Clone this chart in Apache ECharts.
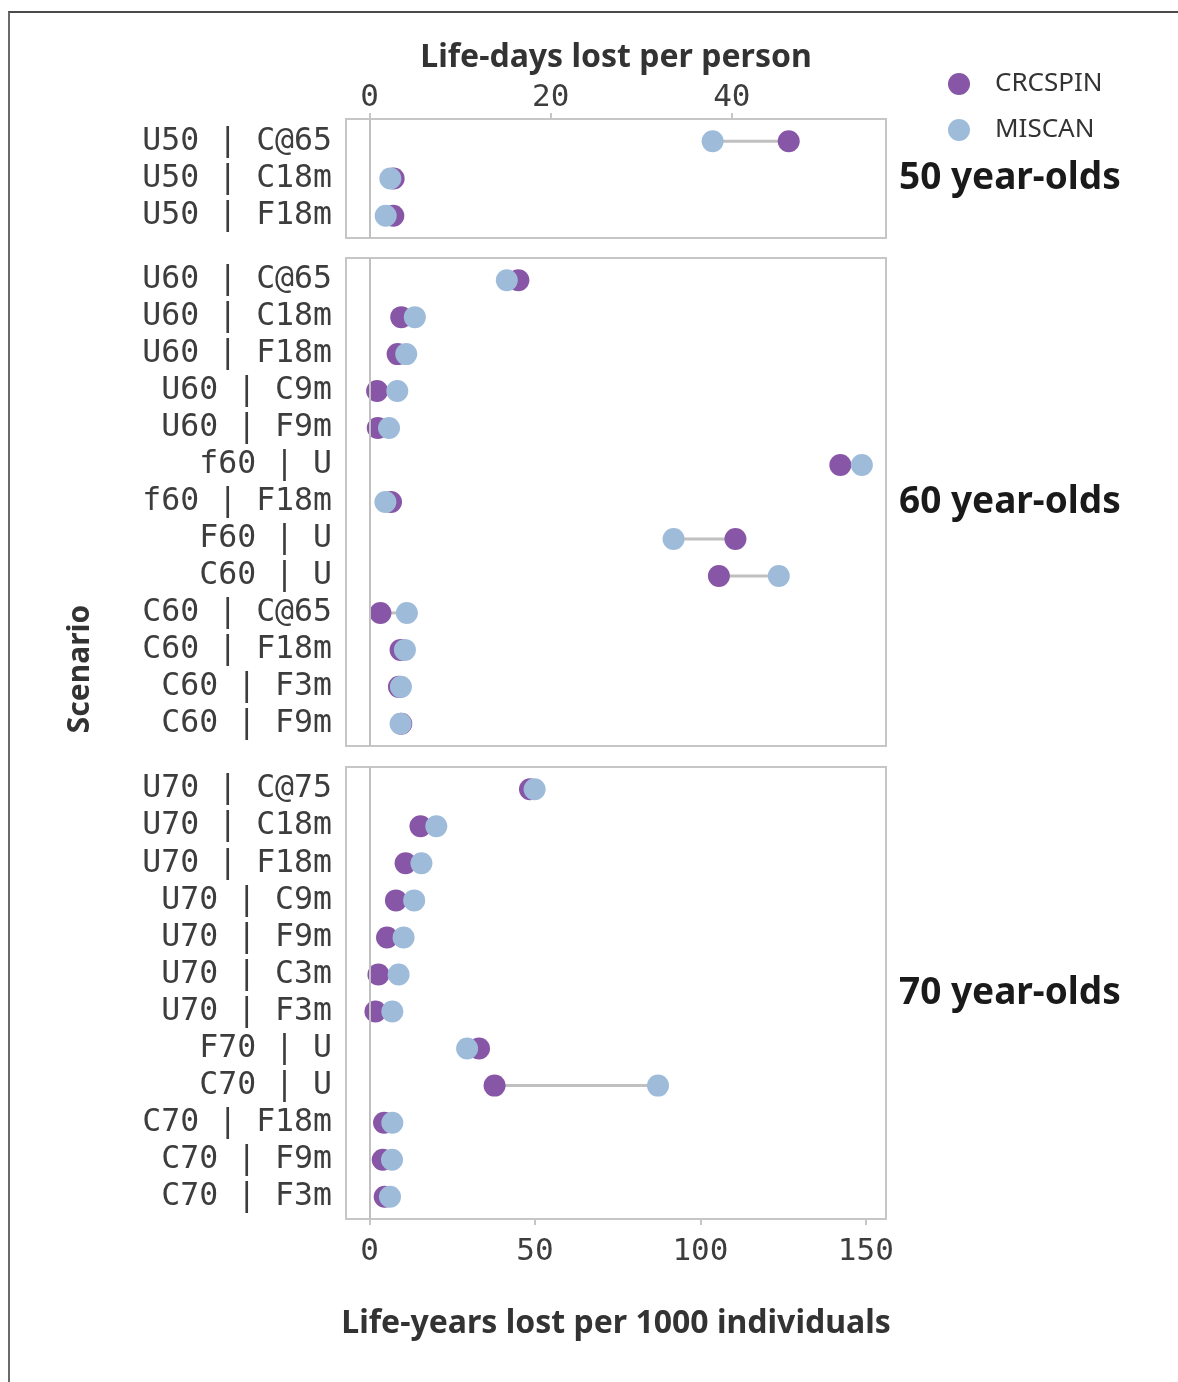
<!DOCTYPE html>
<html>
<head>
<meta charset="utf-8">
<script src="https://cdn.jsdelivr.net/npm/echarts@6/dist/echarts.min.js"></script>
<style>
  html, body { margin: 0; padding: 0; background: #fff; }
  #frame { position: absolute; left: 8px; top: 11px; width: 1170px; height: 1371px;
           border-top: 2px solid #4a4a4a; border-left: 2px solid #6a6a6a; box-sizing: border-box; }
  #chart { position: absolute; left: 0; top: 0; width: 1178px; height: 1382px; }
</style>
</head>
<body>
<div id="frame"></div>
<div id="chart"></div>
<script>
// ---------------- data ----------------
const seriesNames = ['CRCSPIN', 'MISCAN'];
const panelTitles = ['50 year-olds', '60 year-olds', '70 year-olds'];

const labels50 = ['U50 | C@65', 'U50 | C18m', 'U50 | F18m'];
const crcspin50 = [126.7, 7.3, 7.2];
const miscan50  = [103.7, 6.3, 4.9];

const labels60 = ['U60 | C@65', 'U60 | C18m', 'U60 | F18m', 'U60 | C9m', 'U60 | F9m',
                  'f60 | U', 'f60 | F18m', 'F60 | U', 'C60 | U', 'C60 | C@65',
                  'C60 | F18m', 'C60 | F3m', 'C60 | F9m'];
const crcspin60 = [45.0, 9.6, 8.5, 2.3, 2.5, 142.3, 6.5, 110.6, 105.6, 3.3, 9.4, 8.9, 9.6];
const miscan60  = [41.5, 13.7, 11.1, 8.4, 5.9, 148.8, 4.8, 91.9, 123.7, 11.3, 10.7, 9.5, 9.4];

const labels70 = ['U70 | C@75', 'U70 | C18m', 'U70 | F18m', 'U70 | C9m', 'U70 | F9m',
                  'U70 | C3m', 'U70 | F3m', 'F70 | U', 'C70 | U', 'C70 | F18m',
                  'C70 | F9m', 'C70 | F3m'];
const crcspin70 = [48.5, 15.4, 10.9, 8.0, 5.3, 2.7, 1.8, 33.1, 37.8, 4.4, 4.0, 4.6];
const miscan70  = [49.9, 20.2, 15.7, 13.5, 10.3, 8.8, 6.9, 29.5, 87.2, 6.9, 6.8, 6.2];

const bottomTicks = [0, 50, 100, 150];   // life-years lost per 1000
const topTicks = [0, 20, 40];            // life-days lost per person
const daysPerLYper1000 = 365.25 / 1000;

// ---------------- layout ----------------
const xMin = -7.1, xMax = 156.1;
const panels = [
  { labels: labels50, crc: crcspin50, mis: miscan50, top: 119, height: 119 },
  { labels: labels60, crc: crcspin60, mis: miscan60, top: 258, height: 488 },
  { labels: labels70, crc: crcspin70, mis: miscan70, top: 767, height: 452 }
];
const gridLeft = 346, gridWidth = 540;
const purple = '#8856a7', blue = '#9ebcda';
const borderGrey = '#c6c6c6';
const monoFont = '"DejaVu Sans Mono", monospace';
const sansFont = '"Noto Sans", "Open Sans", sans-serif';
const labelColor = '#3d3d3d';

const grid = [], xAxis = [], yAxis = [], series = [], graphic = [];

panels.forEach((p, gi) => {
  const n = p.labels.length;
  grid.push({
    left: gridLeft, top: p.top, width: gridWidth, height: p.height,
    show: true, borderColor: borderGrey, borderWidth: 2, backgroundColor: 'transparent'
  });
  const isBottom = gi === panels.length - 1;
  xAxis.push({
    type: 'value', gridIndex: gi, min: xMin, max: xMax, position: 'bottom',
    axisLine: { show: isBottom, onZero: false, lineStyle: { color: borderGrey, width: 2 } },
    splitLine: { show: false },
    axisTick: isBottom ? { show: true, customValues: bottomTicks, length: 6,
                           lineStyle: { color: borderGrey, width: 2 } } : { show: false },
    axisLabel: isBottom ? { show: true, customValues: bottomTicks, margin: 17,
                            fontFamily: monoFont, fontSize: 31, color: labelColor } : { show: false },
    name: isBottom ? 'Life-years lost per 1000 individuals' : '',
    nameLocation: 'middle', nameGap: 105,
    nameTextStyle: { fontFamily: sansFont, fontSize: 32, fontWeight: 'bold', color: '#333',
                     verticalAlign: 'middle' }
  });
  yAxis.push({
    type: 'value', gridIndex: gi, inverse: true, min: -0.6, max: n - 0.4,
    axisLine: { show: false, onZero: false }, axisTick: { show: false }, splitLine: { show: false },
    axisLabel: {
      show: true, customValues: p.labels.map((_, i) => i), margin: 14,
      fontFamily: monoFont, fontSize: 31.5, color: labelColor, padding: [4, 0, 0, 0],
      formatter: v => p.labels[Math.round(v)]
    }
  });
  // connecting segments
  series.push({
    type: 'custom', xAxisIndex: gi, yAxisIndex: gi, silent: true, z: 1,
    data: p.crc.map((c, i) => [c, p.mis[i], i]),
    encode: { x: [0, 1], y: 2 },
    renderItem: (params, api) => {
      const a = api.coord([api.value(0), api.value(2)]);
      const b = api.coord([api.value(1), api.value(2)]);
      return { type: 'line', shape: { x1: a[0], y1: a[1], x2: b[0], y2: b[1] },
               style: { stroke: '#c0c0c0', lineWidth: 3 } };
    },
    markLine: {
      silent: true, symbol: 'none', label: { show: false },
      lineStyle: { color: '#c0c0c0', width: 2, type: 'solid' },
      data: [{ xAxis: 0 }], animation: false
    }
  });
  series.push({
    name: seriesNames[0], type: 'scatter', xAxisIndex: gi, yAxisIndex: gi, z: 2,
    symbolSize: 22, itemStyle: { color: purple, opacity: 1 },
    data: p.crc.map((v, i) => [v, i])
  });
  series.push({
    name: seriesNames[1], type: 'scatter', xAxisIndex: gi, yAxisIndex: gi, z: 3,
    symbolSize: 22, itemStyle: { color: blue, opacity: 1 },
    data: p.mis.map((v, i) => [v, i])
  });
  graphic.push({
    type: 'text', x: 899, y: p.top + p.height / 2,
    style: { text: panelTitles[gi], fontFamily: sansFont, fontSize: 37, fontWeight: 'bold', fill: '#1a1a1a',
             align: 'left', verticalAlign: 'middle' }
  });
});

// secondary (top) axis: life-days lost per person
xAxis.push({
  type: 'value', gridIndex: 0, position: 'top',
  min: xMin * daysPerLYper1000, max: xMax * daysPerLYper1000,
  axisLine: { show: true, onZero: false, lineStyle: { color: borderGrey, width: 2 } },
  splitLine: { show: false },
  axisTick: { show: true, customValues: topTicks, length: 6, lineStyle: { color: borderGrey, width: 2 } },
  axisLabel: { show: true, customValues: topTicks, margin: 6, fontFamily: monoFont, fontSize: 31, color: labelColor },
  name: 'Life-days lost per person', nameLocation: 'middle', nameGap: 61,
  nameTextStyle: { fontFamily: sansFont, fontSize: 32, fontWeight: 'bold', color: '#333',
                   verticalAlign: 'middle' }
});

graphic.push({
  type: 'text', x: 80, y: 669, rotation: Math.PI / 2,
  style: { text: 'Scenario', fontFamily: sansFont, fontSize: 30, fontWeight: 'bold', fill: '#333',
           align: 'center', verticalAlign: 'middle' }
});

const chart = echarts.init(document.getElementById('chart'), null, { renderer: 'canvas' });
chart.setOption({
  animation: false,
  backgroundColor: 'transparent',
  grid, xAxis, yAxis, series, graphic,
  legend: {
    data: seriesNames, orient: 'vertical', left: 943, top: 66,
    icon: 'circle', itemWidth: 22, itemHeight: 22, itemGap: 20,
    textStyle: { fontFamily: sansFont, fontSize: 26, color: '#333', padding: [0, 0, 0, 20] }
  }
});
</script>
</body>
</html>
